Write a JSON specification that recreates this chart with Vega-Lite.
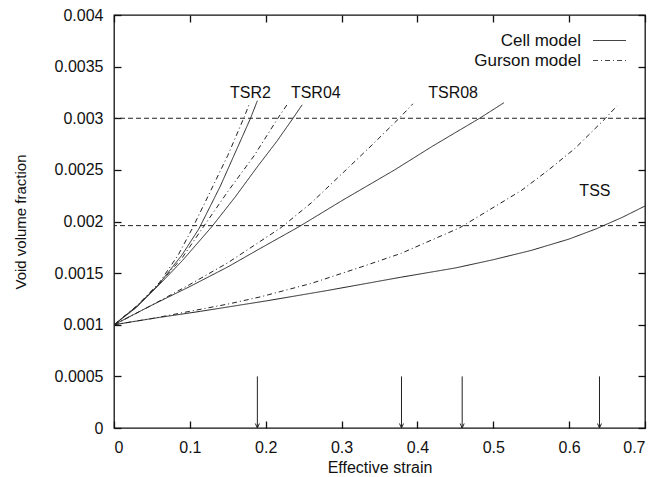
{
  "$schema": "https://vega.github.io/schema/vega-lite/v6.json",
  "width": 531,
  "height": 413,
  "autosize": "none",
  "padding": {"left": 114, "top": 15, "right": 16, "bottom": 49},
  "background": "white",
  "config": {
    "font": "Liberation Sans",
    "view": {"stroke": "#111", "strokeWidth": 1.3},
    "axis": {
      "domain": false,
      "grid": false,
      "labelColor": "#111",
      "titleColor": "#111",
      "labelFont": "Liberation Sans",
      "titleFont": "Liberation Sans",
      "titleFontWeight": "normal",
      "labelFontSize": 16,
      "titleFontSize": 16
    },
    "legend": {"labelFont": "Liberation Sans"}
  },
  "datasets": {
    "curves": [
      {"c": "TSR2", "m": "Cell model", "x": 0, "y": 0.001},
      {"c": "TSR2", "m": "Cell model", "x": 0.03, "y": 0.00118},
      {"c": "TSR2", "m": "Cell model", "x": 0.06, "y": 0.0014},
      {"c": "TSR2", "m": "Cell model", "x": 0.09, "y": 0.00168},
      {"c": "TSR2", "m": "Cell model", "x": 0.112, "y": 0.00193},
      {"c": "TSR2", "m": "Cell model", "x": 0.14, "y": 0.00234},
      {"c": "TSR2", "m": "Cell model", "x": 0.16, "y": 0.00267},
      {"c": "TSR2", "m": "Cell model", "x": 0.18, "y": 0.003},
      {"c": "TSR2", "m": "Cell model", "x": 0.189, "y": 0.00317},
      {"c": "TSR2", "m": "Gurson model", "x": 0, "y": 0.001},
      {"c": "TSR2", "m": "Gurson model", "x": 0.03, "y": 0.00118},
      {"c": "TSR2", "m": "Gurson model", "x": 0.06, "y": 0.00141},
      {"c": "TSR2", "m": "Gurson model", "x": 0.085, "y": 0.00168},
      {"c": "TSR2", "m": "Gurson model", "x": 0.103, "y": 0.00193},
      {"c": "TSR2", "m": "Gurson model", "x": 0.125, "y": 0.00226},
      {"c": "TSR2", "m": "Gurson model", "x": 0.15, "y": 0.00264},
      {"c": "TSR2", "m": "Gurson model", "x": 0.171, "y": 0.003},
      {"c": "TSR2", "m": "Gurson model", "x": 0.178, "y": 0.00313},
      {"c": "TSR04", "m": "Cell model", "x": 0, "y": 0.001},
      {"c": "TSR04", "m": "Cell model", "x": 0.03, "y": 0.00117},
      {"c": "TSR04", "m": "Cell model", "x": 0.06, "y": 0.00139},
      {"c": "TSR04", "m": "Cell model", "x": 0.09, "y": 0.00162},
      {"c": "TSR04", "m": "Cell model", "x": 0.129, "y": 0.00195},
      {"c": "TSR04", "m": "Cell model", "x": 0.16, "y": 0.00224},
      {"c": "TSR04", "m": "Cell model", "x": 0.19, "y": 0.00254},
      {"c": "TSR04", "m": "Cell model", "x": 0.215, "y": 0.00278},
      {"c": "TSR04", "m": "Cell model", "x": 0.236, "y": 0.003},
      {"c": "TSR04", "m": "Cell model", "x": 0.248, "y": 0.00313},
      {"c": "TSR04", "m": "Gurson model", "x": 0, "y": 0.001},
      {"c": "TSR04", "m": "Gurson model", "x": 0.03, "y": 0.00118},
      {"c": "TSR04", "m": "Gurson model", "x": 0.06, "y": 0.0014},
      {"c": "TSR04", "m": "Gurson model", "x": 0.09, "y": 0.00165},
      {"c": "TSR04", "m": "Gurson model", "x": 0.118, "y": 0.00195},
      {"c": "TSR04", "m": "Gurson model", "x": 0.15, "y": 0.00229},
      {"c": "TSR04", "m": "Gurson model", "x": 0.185, "y": 0.00264},
      {"c": "TSR04", "m": "Gurson model", "x": 0.216, "y": 0.003},
      {"c": "TSR04", "m": "Gurson model", "x": 0.228, "y": 0.00313},
      {"c": "TSR08", "m": "Cell model", "x": 0, "y": 0.001},
      {"c": "TSR08", "m": "Cell model", "x": 0.05, "y": 0.00119},
      {"c": "TSR08", "m": "Cell model", "x": 0.1, "y": 0.00137},
      {"c": "TSR08", "m": "Cell model", "x": 0.15, "y": 0.00156},
      {"c": "TSR08", "m": "Cell model", "x": 0.193, "y": 0.00174},
      {"c": "TSR08", "m": "Cell model", "x": 0.244, "y": 0.00195},
      {"c": "TSR08", "m": "Cell model", "x": 0.3, "y": 0.0022},
      {"c": "TSR08", "m": "Cell model", "x": 0.37, "y": 0.0025},
      {"c": "TSR08", "m": "Cell model", "x": 0.42, "y": 0.00273},
      {"c": "TSR08", "m": "Cell model", "x": 0.482, "y": 0.003},
      {"c": "TSR08", "m": "Cell model", "x": 0.514, "y": 0.00315},
      {"c": "TSR08", "m": "Gurson model", "x": 0, "y": 0.001},
      {"c": "TSR08", "m": "Gurson model", "x": 0.05, "y": 0.00119},
      {"c": "TSR08", "m": "Gurson model", "x": 0.1, "y": 0.00139},
      {"c": "TSR08", "m": "Gurson model", "x": 0.15, "y": 0.0016},
      {"c": "TSR08", "m": "Gurson model", "x": 0.22, "y": 0.00194},
      {"c": "TSR08", "m": "Gurson model", "x": 0.26, "y": 0.00218},
      {"c": "TSR08", "m": "Gurson model", "x": 0.303, "y": 0.00248},
      {"c": "TSR08", "m": "Gurson model", "x": 0.34, "y": 0.00274},
      {"c": "TSR08", "m": "Gurson model", "x": 0.376, "y": 0.003},
      {"c": "TSR08", "m": "Gurson model", "x": 0.394, "y": 0.00314},
      {"c": "TSS", "m": "Cell model", "x": 0, "y": 0.001},
      {"c": "TSS", "m": "Cell model", "x": 0.05, "y": 0.00106},
      {"c": "TSS", "m": "Cell model", "x": 0.114, "y": 0.00113},
      {"c": "TSS", "m": "Cell model", "x": 0.2, "y": 0.00123},
      {"c": "TSS", "m": "Cell model", "x": 0.28, "y": 0.00133},
      {"c": "TSS", "m": "Cell model", "x": 0.378, "y": 0.00146},
      {"c": "TSS", "m": "Cell model", "x": 0.45, "y": 0.00155},
      {"c": "TSS", "m": "Cell model", "x": 0.5, "y": 0.00163},
      {"c": "TSS", "m": "Cell model", "x": 0.55, "y": 0.00172},
      {"c": "TSS", "m": "Cell model", "x": 0.6, "y": 0.00183},
      {"c": "TSS", "m": "Cell model", "x": 0.636, "y": 0.00193},
      {"c": "TSS", "m": "Cell model", "x": 0.67, "y": 0.00204},
      {"c": "TSS", "m": "Cell model", "x": 0.7, "y": 0.00215},
      {"c": "TSS", "m": "Gurson model", "x": 0, "y": 0.001},
      {"c": "TSS", "m": "Gurson model", "x": 0.05, "y": 0.00106},
      {"c": "TSS", "m": "Gurson model", "x": 0.1, "y": 0.00113},
      {"c": "TSS", "m": "Gurson model", "x": 0.15, "y": 0.0012},
      {"c": "TSS", "m": "Gurson model", "x": 0.193, "y": 0.00127},
      {"c": "TSS", "m": "Gurson model", "x": 0.26, "y": 0.0014},
      {"c": "TSS", "m": "Gurson model", "x": 0.326, "y": 0.00156},
      {"c": "TSS", "m": "Gurson model", "x": 0.378, "y": 0.00169},
      {"c": "TSS", "m": "Gurson model", "x": 0.456, "y": 0.00194},
      {"c": "TSS", "m": "Gurson model", "x": 0.537, "y": 0.0023},
      {"c": "TSS", "m": "Gurson model", "x": 0.573, "y": 0.0025},
      {"c": "TSS", "m": "Gurson model", "x": 0.608, "y": 0.00271},
      {"c": "TSS", "m": "Gurson model", "x": 0.648, "y": 0.003},
      {"c": "TSS", "m": "Gurson model", "x": 0.663, "y": 0.00312}
    ],
    "refs": [{"ref": 0.003}, {"ref": 0.00196}],
    "arrows": [
      {"xa": 0.189, "top": 0.0005, "bottom": 0},
      {"xa": 0.379, "top": 0.0005, "bottom": 0},
      {"xa": 0.459, "top": 0.0005, "bottom": 0},
      {"xa": 0.64, "top": 0.0005, "bottom": 0}
    ],
    "labels": [
      {"label": "TSR2", "lx": 0.18, "ly": 0.00324},
      {"label": "TSR04", "lx": 0.266, "ly": 0.00324},
      {"label": "TSR08", "lx": 0.447, "ly": 0.00324},
      {"label": "TSS", "lx": 0.634, "ly": 0.0023}
    ]
  },
  "layer": [
    {
      "data": {"name": "curves"},
      "mark": {"type": "line", "stroke": "#222", "strokeWidth": 1},
      "encoding": {
        "x": {
          "field": "x", "type": "quantitative",
          "scale": {"domain": [0, 0.7], "nice": false, "zero": false},
          "axis": {"values": [0, 0.1, 0.2, 0.3, 0.4, 0.5, 0.6, 0.7], "format": "~g", "title": "Effective strain", "ticks": true, "tickColor": "#111", "tickWidth": 1.3, "tickSize": 7, "offset": -7, "labelPadding": 11, "titlePadding": 4}
        },
        "y": {
          "field": "y", "type": "quantitative",
          "scale": {"domain": [0, 0.004], "nice": false},
          "axis": {"values": [0, 0.0005, 0.001, 0.0015, 0.002, 0.0025, 0.003, 0.0035, 0.004], "format": "~g", "title": "Void volume fraction", "ticks": true, "tickColor": "#111", "tickWidth": 1.3, "tickSize": 7, "offset": -7, "titleFontSize": 15, "labelPadding": 11, "titlePadding": 26}
        },
        "detail": {"field": "c"},
        "strokeDash": {
          "field": "m", "type": "nominal",
          "scale": {"domain": ["Cell model", "Gurson model"], "range": [[1, 0], [5, 3, 1, 3]]},
          "legend": {
            "title": null,
            "orient": "none",
            "legendX": 487,
            "legendY": 17,
            "symbolType": "M-2.2,0L2.2,0",
            "symbolSize": 225,
            "symbolFillColor": "transparent",
            "symbolStrokeColor": "#444",
            "symbolStrokeWidth": 1,
            "labelFontSize": 17,
            "labelColor": "#111",
            "labelAlign": "right",
            "labelOffset": -37,
            "rowPadding": 2
          }
        }
      }
    },
    {
      "data": {"name": "refs"},
      "mark": {"type": "rule", "stroke": "#222", "strokeWidth": 1, "strokeDash": [5, 3]},
      "encoding": {
        "y": {"field": "ref", "type": "quantitative", "axis": null}
      }
    },
    {
      "data": {"name": "arrows"},
      "mark": {"type": "rule", "stroke": "#222", "strokeWidth": 1},
      "encoding": {
        "x": {"field": "xa", "type": "quantitative", "axis": {"orient": "top", "values": [0, 0.1, 0.2, 0.3, 0.4, 0.5, 0.6, 0.7], "labels": false, "title": null, "ticks": true, "tickColor": "#111", "tickWidth": 1.3, "tickSize": 7, "offset": -7}},
        "y": {"field": "top", "type": "quantitative", "axis": {"orient": "right", "values": [0, 0.0005, 0.001, 0.0015, 0.002, 0.0025, 0.003, 0.0035, 0.004], "labels": false, "title": null, "ticks": true, "tickColor": "#111", "tickWidth": 1.3, "tickSize": 7, "offset": -7}},
        "y2": {"field": "bottom"}
      }
    },
    {
      "data": {"name": "arrows"},
      "mark": {"type": "point", "shape": "M-0.45,-1L0,0L0.45,-1", "filled": false, "stroke": "#222", "strokeWidth": 1, "size": 80, "opacity": 1},
      "encoding": {
        "x": {"field": "xa", "type": "quantitative", "axis": null},
        "y": {"field": "bottom", "type": "quantitative", "axis": null}
      }
    },
    {
      "data": {"name": "labels"},
      "mark": {"type": "text", "fontSize": 16, "color": "#111", "font": "Liberation Sans", "align": "center", "baseline": "middle"},
      "encoding": {
        "x": {"field": "lx", "type": "quantitative", "axis": null},
        "y": {"field": "ly", "type": "quantitative", "axis": null},
        "text": {"field": "label"}
      }
    }
  ],
  "resolve": {"axis": {"x": "independent", "y": "independent"}}
}
